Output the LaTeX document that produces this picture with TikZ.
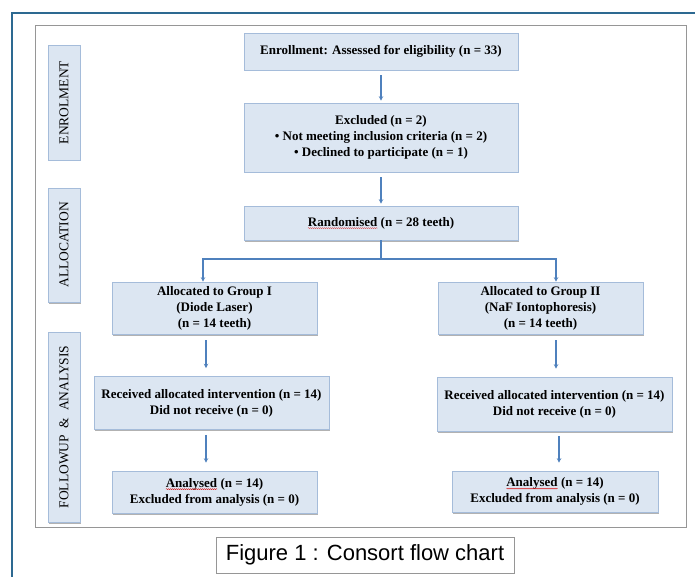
\documentclass[tikz,border=0pt]{standalone}
\usepackage{fontspec}
\setmainfont{Liberation Serif}
\newfontfamily\arialfont{Liberation Sans}
\usetikzlibrary{arrows.meta,shadows,decorations.pathmorphing}
\definecolor{boxfill}{RGB}{220,230,242}
\definecolor{boxline}{RGB}{165,188,218}
\definecolor{arrowblue}{RGB}{79,129,189}
\definecolor{frameblue}{RGB}{45,105,145}
\definecolor{framegray}{RGB}{150,150,150}
\newcommand{\spellwave}[1]{\tikz[baseline=(w.base)]{\node[inner sep=0pt,outer sep=0pt,minimum width=0pt,minimum height=0pt,draw=none,fill=none](w){#1};\draw[red!85!black,line width=0.3pt,decorate,decoration={snake,amplitude=0.5pt,segment length=2pt}] ([yshift=-2pt]w.base west) -- ([yshift=-2pt]w.base east);}}
\begin{document}
\begin{tikzpicture}[x=1pt,y=-1pt,
  flowbox/.style={draw=boxline,line width=0.6pt,fill=boxfill,align=center,
    font=\fontsize{13}{16}\selectfont\bfseries,inner sep=0pt,
    drop shadow={shadow xshift=1pt,shadow yshift=-1.5pt,fill=black,opacity=0.3}},
  phasebox/.style={draw=boxline,line width=0.6pt,fill=boxfill,align=center,
    font=\fontsize{13.5}{16}\selectfont,inner sep=0pt,rotate=90,minimum height=32pt,
    drop shadow={shadow xshift=1pt,shadow yshift=-1.5pt,fill=black,opacity=0.3}},
  arr/.style={draw=arrowblue,line width=1.6pt,-{Stealth[length=4.5pt,width=4.5pt]}},
  plainline/.style={draw=arrowblue,line width=1.6pt}
]
\useasboundingbox (0,0) rectangle (695,577);
\fill[white] (0,0) rectangle (695,577);
% outer frames
\draw[frameblue,line width=1.5pt] (12,580) -- (12,13) -- (698,13);
\draw[framegray,line width=0.8pt] (35,25) rectangle (686,527);

% phase labels
\node[phasebox,minimum width=115pt] (pen) at (64,102.5) {ENROLMENT};
\node[phasebox,minimum width=114pt] (pal) at (64,245) {ALLOCATION};
\node[phasebox,minimum width=190pt] (pfa) at (64,427) {FOLLOWUP \ \& \ ANALYSIS};

% flow boxes
\node[flowbox,minimum width=274pt,minimum height=37pt] (enr) at (381,51.5)
  {Enrollment: Assessed for eligibility (n = 33)};
\node[flowbox,minimum width=274pt,minimum height=69pt] (exc) at (381,137.5)
  {Excluded (n = 2)\\ • Not meeting inclusion criteria (n = 2)\\ • Declined to participate (n = 1)};
\node[flowbox,minimum width=274pt,minimum height=34pt] (rnd) at (381,223)
  {\spellwave{Randomised} (n = 28 teeth)};
\node[flowbox,minimum width=205pt,minimum height=52pt] (g1) at (214.5,308)
  {Allocated to Group I\\ (Diode Laser)\\ (n = 14 teeth)};
\node[flowbox,minimum width=205pt,minimum height=52pt] (g2) at (540.5,308)
  {Allocated to Group II\\ (NaF Iontophoresis)\\ (n = 14 teeth)};
\node[flowbox,minimum width=235pt,minimum height=53pt] (r1) at (211.5,403)
  {Received allocated intervention (n = 14)\\ Did not receive (n = 0)};
\node[flowbox,minimum width=235pt,minimum height=54pt] (r2) at (554.5,404)
  {Received allocated intervention (n = 14)\\ Did not receive (n = 0)};
\node[flowbox,minimum width=205pt,minimum height=42pt] (a1) at (214.5,492)
  {\spellwave{Analysed} (n = 14)\\ Excluded from analysis (n = 0)};
\node[flowbox,minimum width=206pt,minimum height=41pt] (a2) at (555,491.5)
  {\spellwave{Analysed} (n = 14)\\ Excluded from analysis (n = 0)};

% connectors
\draw[arr,shorten <=5pt,shorten >=2pt] (enr) -- (exc);
\draw[arr,shorten <=5pt,shorten >=2pt] (exc) -- (rnd);
\coordinate (split) at (381,259);
\coordinate (sl) at (203,259);
\coordinate (sr) at (556,259);
\draw[plainline] (rnd.south) -- (split);
\draw[arr] (split) -- (sl) -- (sl |- g1.north);
\draw[arr] (split) -- (sr) -- (sr |- g2.north);
\draw[arr,shorten <=6pt,shorten >=8pt] ([xshift=-8.5pt]g1.south) -- ([xshift=-8.5pt]g1.south |- r1.north);
\draw[arr,shorten <=6pt,shorten >=8pt] ([xshift=15.5pt]g2.south) -- ([xshift=15.5pt]g2.south |- r2.north);
\draw[arr,shorten <=5pt,shorten >=8pt] ([xshift=-5.5pt]r1.south) -- ([xshift=-5.5pt]r1.south |- a1.north);
\draw[arr,shorten <=5pt,shorten >=8pt] ([xshift=4.5pt]r2.south) -- ([xshift=4.5pt]r2.south |- a2.north);

% caption
\node[draw=framegray,line width=0.8pt,minimum width=298pt,minimum height=36pt,inner sep=0pt,
  font=\arialfont\fontsize{22}{24}\selectfont] (cap) at (365,555) {Figure 1 : Consort flow chart};
\end{tikzpicture}
\end{document}
